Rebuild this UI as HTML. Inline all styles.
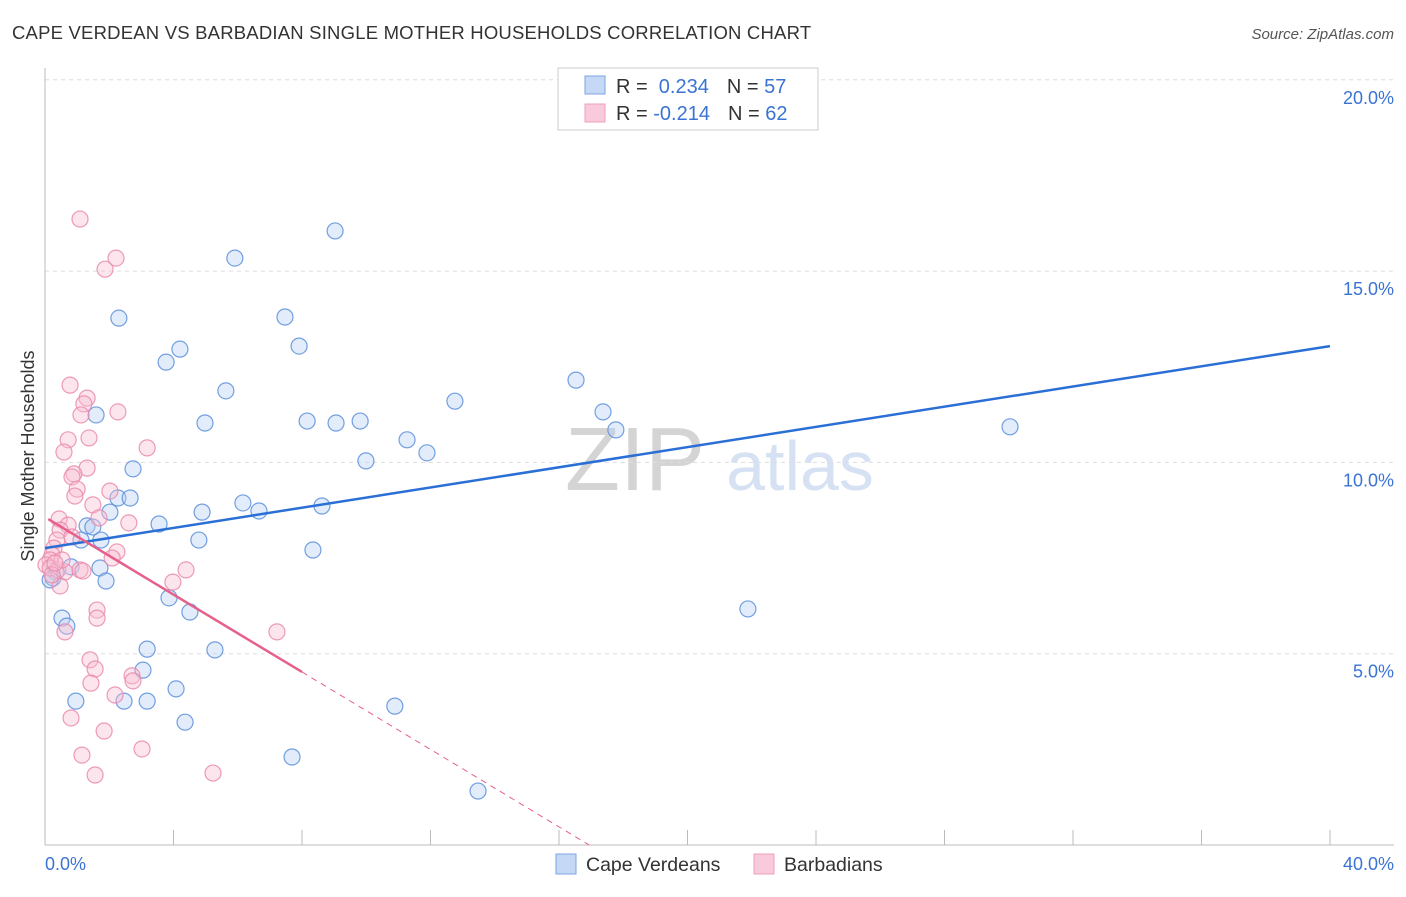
<!DOCTYPE html>
<html><head><meta charset="utf-8"><style>
body{margin:0;background:#fff;font-family:"Liberation Sans",sans-serif}
svg text{font-family:"Liberation Sans",sans-serif}
</style></head><body>
<svg id="chart" width="1406" height="892">
<text x="12" y="39" font-size="18.5" letter-spacing="0.2" fill="#333">CAPE VERDEAN VS BARBADIAN SINGLE MOTHER HOUSEHOLDS CORRELATION CHART</text>
<text x="1394" y="39" font-size="15" fill="#555" font-style="italic" text-anchor="end">Source: ZipAtlas.com</text>
<text x="635" y="490" font-size="90" fill="#d4d4d4" text-anchor="middle">ZIP</text>
<text x="800" y="490" font-size="70" fill="#d6e2f3" text-anchor="middle">atlas</text>
<g id="grid"></g><g id="axes"></g><g id="pts"></g><g id="lines"></g>
<text transform="translate(34,456) rotate(-90)" font-size="18" fill="#333" text-anchor="middle">Single Mother Households</text>
<text x="45" y="870" font-size="18" fill="#3b73d4">0.0%</text>
<text x="1394" y="870" font-size="18" fill="#3b73d4" text-anchor="end">40.0%</text>
<g>
<rect x="558" y="68" width="260" height="62" fill="#fff" stroke="#ccc"/>
<rect x="585" y="76" width="20" height="18" fill="#c5d8f5" stroke="#7ea4e0"/>
<rect x="585" y="104" width="20" height="18" fill="#f9cadb" stroke="#eea0bc"/>
<text x="616" y="93" font-size="20" fill="#333">R = <tspan fill="#3b73d4">&#160;0.234</tspan><tspan dx="18">N = </tspan><tspan fill="#3b73d4">57</tspan></text>
<text x="616" y="120" font-size="20" fill="#333">R = <tspan fill="#3b73d4">-0.214</tspan><tspan dx="18">N = </tspan><tspan fill="#3b73d4">62</tspan></text>
</g>
<g>
<rect x="556" y="854" width="20" height="20" fill="#c5d8f5" stroke="#7ea4e0"/>
<text x="586" y="871" font-size="19.5" fill="#333">Cape Verdeans</text>
<rect x="754" y="854" width="20" height="20" fill="#f9cadb" stroke="#eea0bc"/>
<text x="784" y="871" font-size="19.5" fill="#333">Barbadians</text>
</g>
</svg>
<script>
const yTicks=[5,10,15,20];
const xTicks=[0,4,8,12,16,20,24,28,32,36,40];
const bluePx=[[335,231],[235,258],[119,318],[285,317],[180,349],[166,362],[299,346],[226,391],[96,415],[205,423],[307,421],[336,423],[360,421],[455,401],[576,380],[603,412],[616,430],[407,440],[427,453],[366,461],[1010,427],[133,469],[118,498],[130,498],[243,503],[202,512],[259,511],[322,506],[110,512],[159,524],[87,526],[93,527],[81,540],[101,540],[199,540],[313,550],[71,567],[100,568],[56,572],[53,578],[50,580],[106,581],[169,598],[190,612],[62,618],[67,626],[748,609],[147,649],[215,650],[143,670],[176,689],[76,701],[124,701],[147,701],[185,722],[395,706],[292,757],[478,791]];
const pinkPx=[[80,219],[116,258],[105,269],[70,385],[87,398],[84,404],[118,412],[81,415],[68,440],[89,438],[64,452],[147,448],[87,468],[74,474],[72,477],[77,489],[75,496],[110,491],[93,505],[99,518],[59,519],[129,523],[68,525],[60,530],[57,540],[72,537],[54,548],[117,552],[112,558],[52,555],[50,560],[46,565],[50,568],[58,570],[65,572],[80,570],[83,571],[186,570],[173,582],[60,586],[97,610],[97,618],[65,632],[277,632],[90,660],[95,669],[132,676],[133,681],[91,683],[115,695],[71,718],[104,731],[82,755],[142,749],[95,775],[213,773],[62,560],[52,575],[55,563]];
const blueX=bluePx.map(p=>+((p[0]-45)/32.125).toFixed(2));
const blueY=bluePx.map(p=>+((845-p[1])/38.26).toFixed(2));
const pinkX=pinkPx.map(p=>+((p[0]-45)/32.125).toFixed(2));
const pinkY=pinkPx.map(p=>+((845-p[1])/38.26).toFixed(2));
const blueTrend=[7.76,13.04];
const pinkTrend=[8.57,-0.506];
const pinkSolidEnd=8.0;
const X=v=>45+v*32.125, Y=v=>845-v*38.26;
const NS='http://www.w3.org/2000/svg';
function mk(parent,tag,attrs){const e=document.createElementNS(NS,tag);for(const k in attrs)e.setAttribute(k,attrs[k]);document.getElementById(parent).appendChild(e);return e;}
yTicks.forEach(t=>{
 const l=mk('grid','line',{x1:45,x2:1394,y1:Y(t),y2:Y(t),stroke:'#ddd','stroke-dasharray':'4,4'});
 
 
 const tx=mk('grid','text',{x:1394,y:Y(t)+24,'font-size':18,fill:'#3b73d4','text-anchor':'end'});
 tx.textContent=t.toFixed(1)+'%';
 
 
});
const ax=mk('axes','line',{x1:45,x2:45,y1:68,y2:845,stroke:'#bbb'});


const bx=mk('axes','line',{x1:45,x2:1394,y1:845,y2:845,stroke:'#bbb'});


xTicks.slice(1).forEach(t=>{
 const l=mk('axes','line',{x1:X(t),x2:X(t),y1:830,y2:845,stroke:'#bbb'});
 
 
});
function dots(xs,ys,fill,stroke,name){xs.forEach((x,i)=>{
 const c=mk('pts','circle',{cx:X(x),cy:Y(ys[i]),r:8,fill:fill,'fill-opacity':0.4,stroke:stroke,'stroke-opacity':0.85,'stroke-width':1.2});
 
 
});}
dots(blueX,blueY,'#b8d0f2','#5b8fdc','cape-verdean-point');
dots(pinkX,pinkY,'#f7bfd2','#ea8aab','barbadian-point');
const bl=mk('lines','line',{x1:X(0),y1:Y(blueTrend[0]),x2:X(40),y2:Y(blueTrend[1]),stroke:'#2a6fd6','stroke-width':2.5});


const pf=x=>pinkTrend[0]+pinkTrend[1]*x;
const pl=mk('lines','line',{x1:X(0.1),y1:Y(pf(0.1)),x2:X(pinkSolidEnd),y2:Y(pf(pinkSolidEnd)),stroke:'#e6608a','stroke-width':2.5});


const xz=-pinkTrend[0]/pinkTrend[1];
const pd=mk('lines','line',{x1:X(pinkSolidEnd),y1:Y(pf(pinkSolidEnd)),x2:X(xz),y2:Y(0),stroke:'#e6608a','stroke-width':1,'stroke-dasharray':'6,5'});


</script>
</body></html>
